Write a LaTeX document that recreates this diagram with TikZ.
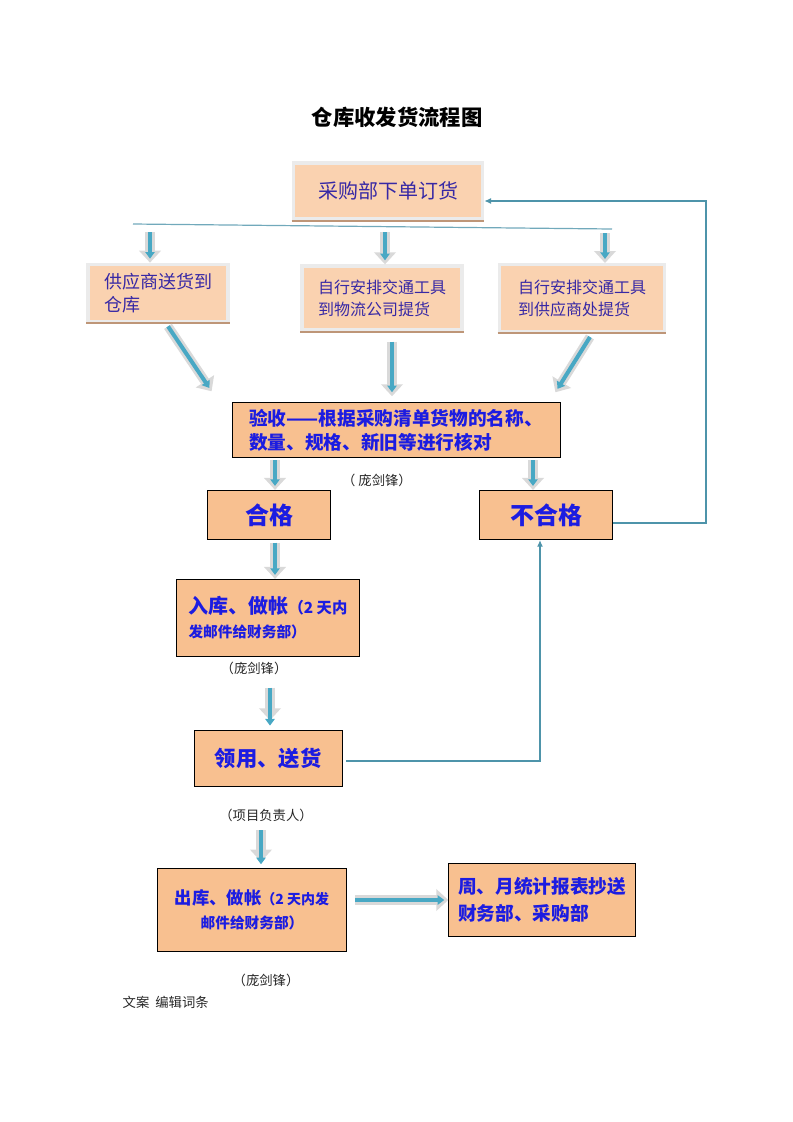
\documentclass[tikz,border=0pt]{standalone}
\usepackage{fontspec}
\setmainfont{Noto Sans CJK SC}
\usetikzlibrary{arrows.meta,calc}
\definecolor{peach}{RGB}{248,192,144}
\definecolor{peachlt}{RGB}{250,210,176}
\definecolor{inkblue}{RGB}{28,28,225}
\definecolor{inkpurple}{RGB}{55,40,165}
\definecolor{arrteal}{RGB}{72,168,196}
\definecolor{lineteal}{RGB}{78,148,170}
\definecolor{edgebrown}{RGB}{190,150,120}
\begin{document}
\begin{tikzpicture}[x=0.75pt, y=-0.75pt]
  % Define block styles
  \tikzstyle{softbox} = [rectangle, fill=peachlt, draw=black!8, line width=2.5pt, text=inkpurple, align=left, inner sep=2pt]
  \tikzstyle{block} = [rectangle, fill=peach, draw=black, line width=0.6pt, text=inkblue, font=\bfseries, align=left, inner sep=2pt]
  \tikzstyle{fat} = [line width=7pt, draw=black!15, -{Triangle[width=16pt,length=9pt]}, postaction={draw=arrteal, line width=3pt, -{Triangle[width=7pt,length=5pt]}, shorten >=3pt}]
  \tikzstyle{line} = [draw=lineteal, line width=0.9pt, -{Latex[length=5pt,width=4.5pt]}]
  \tikzstyle{note} = [font=\fontsize{10}{12}\selectfont, text=black!85]
  \useasboundingbox (0,0) rectangle (793,1122);

  % Place blocks
  \node (title) at (397,117) {\fontsize{16}{19}\selectfont\bfseries 仓库收发货流程图};
  \node [softbox, minimum width=142pt, minimum height=42pt, font=\fontsize{15}{18}\selectfont] (order) at (388,191) {采购部下单订货};
  \node [softbox, minimum width=105pt, minimum height=43pt, font=\fontsize{13.5}{17}\selectfont] (sup) at (158,293) {供应商送货到\\仓库};
  \node [softbox, minimum width=120pt, minimum height=48pt, font=\fontsize{12}{16.5}\selectfont] (logi) at (382,298) {自行安排交通工具\\到物流公司提货};
  \node [softbox, minimum width=124pt, minimum height=50pt, font=\fontsize{12}{16.5}\selectfont] (self) at (582,298) {自行安排交通工具\\到供应商处提货};
  \node [block, minimum width=246pt, minimum height=41pt, font=\fontsize{14}{18}\selectfont\bfseries] (check) at (396,430) {验收——根据采购清单货物的名称、\\数量、规格、新旧等进行核对};
  \node [block, minimum width=92pt, minimum height=37pt, font=\fontsize{18}{22}\selectfont\bfseries] (ok) at (269,515) {合格};
  \node [block, minimum width=100pt, minimum height=37pt, font=\fontsize{18}{22}\selectfont\bfseries] (bad) at (546,515) {不合格};
  \node [block, minimum width=137pt, minimum height=58pt] (stock) at (268,618) {{\fontsize{15}{18}\selectfont 入库、做帐}{\fontsize{11.5}{14}\selectfont （2 天内}\\[6pt]{\fontsize{11}{14}\selectfont 发邮件给财务部）}};
  \node [block, minimum width=111pt, minimum height=42pt, font=\fontsize{16}{20}\selectfont\bfseries] (use) at (268,758) {领用、送货};
  \node [block, minimum width=142pt, minimum height=62pt, align=center] (out) at (252,910) {{\fontsize{13}{16}\selectfont 出库、做帐}{\fontsize{10.5}{13}\selectfont （2 天内发}\\[6pt]{\fontsize{11}{14}\selectfont 邮件给财务部）}};
  \node [block, minimum width=140pt, minimum height=55pt, font=\fontsize{14}{20}\selectfont\bfseries] (report) at (542,900) {周、月统计报表抄送\\财务部、采购部};

  % Notes
  \node [note] (sign1) at (377,480) {（ 庞剑锋）};
  \node [note] (sign2) at (254,668) {（庞剑锋）};
  \node [note] (sign3) at (266,815) {（项目负责人）};
  \node [note] (sign4) at (266,980) {（庞剑锋）};
  \node [note, anchor=west] (foot) at (118,1002) {文案\ \ 编辑词条};

  % Draw lines
  \foreach \n in {order, sup, logi, self}
    \draw [edgebrown, line width=1.5pt] (\n.south west) -- (\n.south east);
  \coordinate (hl) at (133,224);
  \coordinate (hr) at (612,229);
  \draw [lineteal!80, line width=0.9pt] (hl) -- (hr);
  \coordinate (a1) at (150,232);
  \coordinate (a2) at (385,232);
  \coordinate (a3) at (605,233);
  \draw [fat] (a1) -- (a1 |- sup.north);
  \draw [fat] (a2) -- (a2 |- logi.north);
  \draw [fat] (a3) -- (a3 |- self.north);
  \draw [fat] ($(sup.south)+(10,3)$) -- ($(check.north west)+(-20,-11)$);
  \draw [fat] ($(logi.south)+(10,10)$) -- ($(check.north)+(-4,-6)$);
  \draw [fat] ($(self.south)+(8,4)$) -- ($(check.north east)+(-5,-10)$);
  \draw [fat, shorten <=2pt] ($(check.south -| ok.north)+(6,0)$) -- ($(ok.north)+(6,0)$);
  \draw [fat, shorten <=2pt] ($(check.south -| bad.north)+(-13,0)$) -- ($(bad.north)+(-13,0)$);
  \draw [fat, shorten <=2pt] ($(ok.south)+(6,0)$) -- ($(stock.north)+(7,0)$);
  \draw [fat, shorten <=23pt, shorten >=7pt] ($(stock.south)+(2,0)$) -- ($(use.north)+(2,0)$);
  \draw [fat, shorten <=33pt, shorten >=5pt] ($(use.south)+(-7,0)$) -- ($(out.north)+(9,0)$);
  \draw [fat, shorten <=6pt] (out.east |- report.west) -- (report.west);
  \coordinate (corner) at (706,201);
  \path [line] ($(bad.east)+(0,8)$) -| (corner) -- (corner -| order.east);
  \path [line] ($(use.east)+(4,3)$) -| ($(bad.south)+(-6,0)$);
\end{tikzpicture}
\end{document}
